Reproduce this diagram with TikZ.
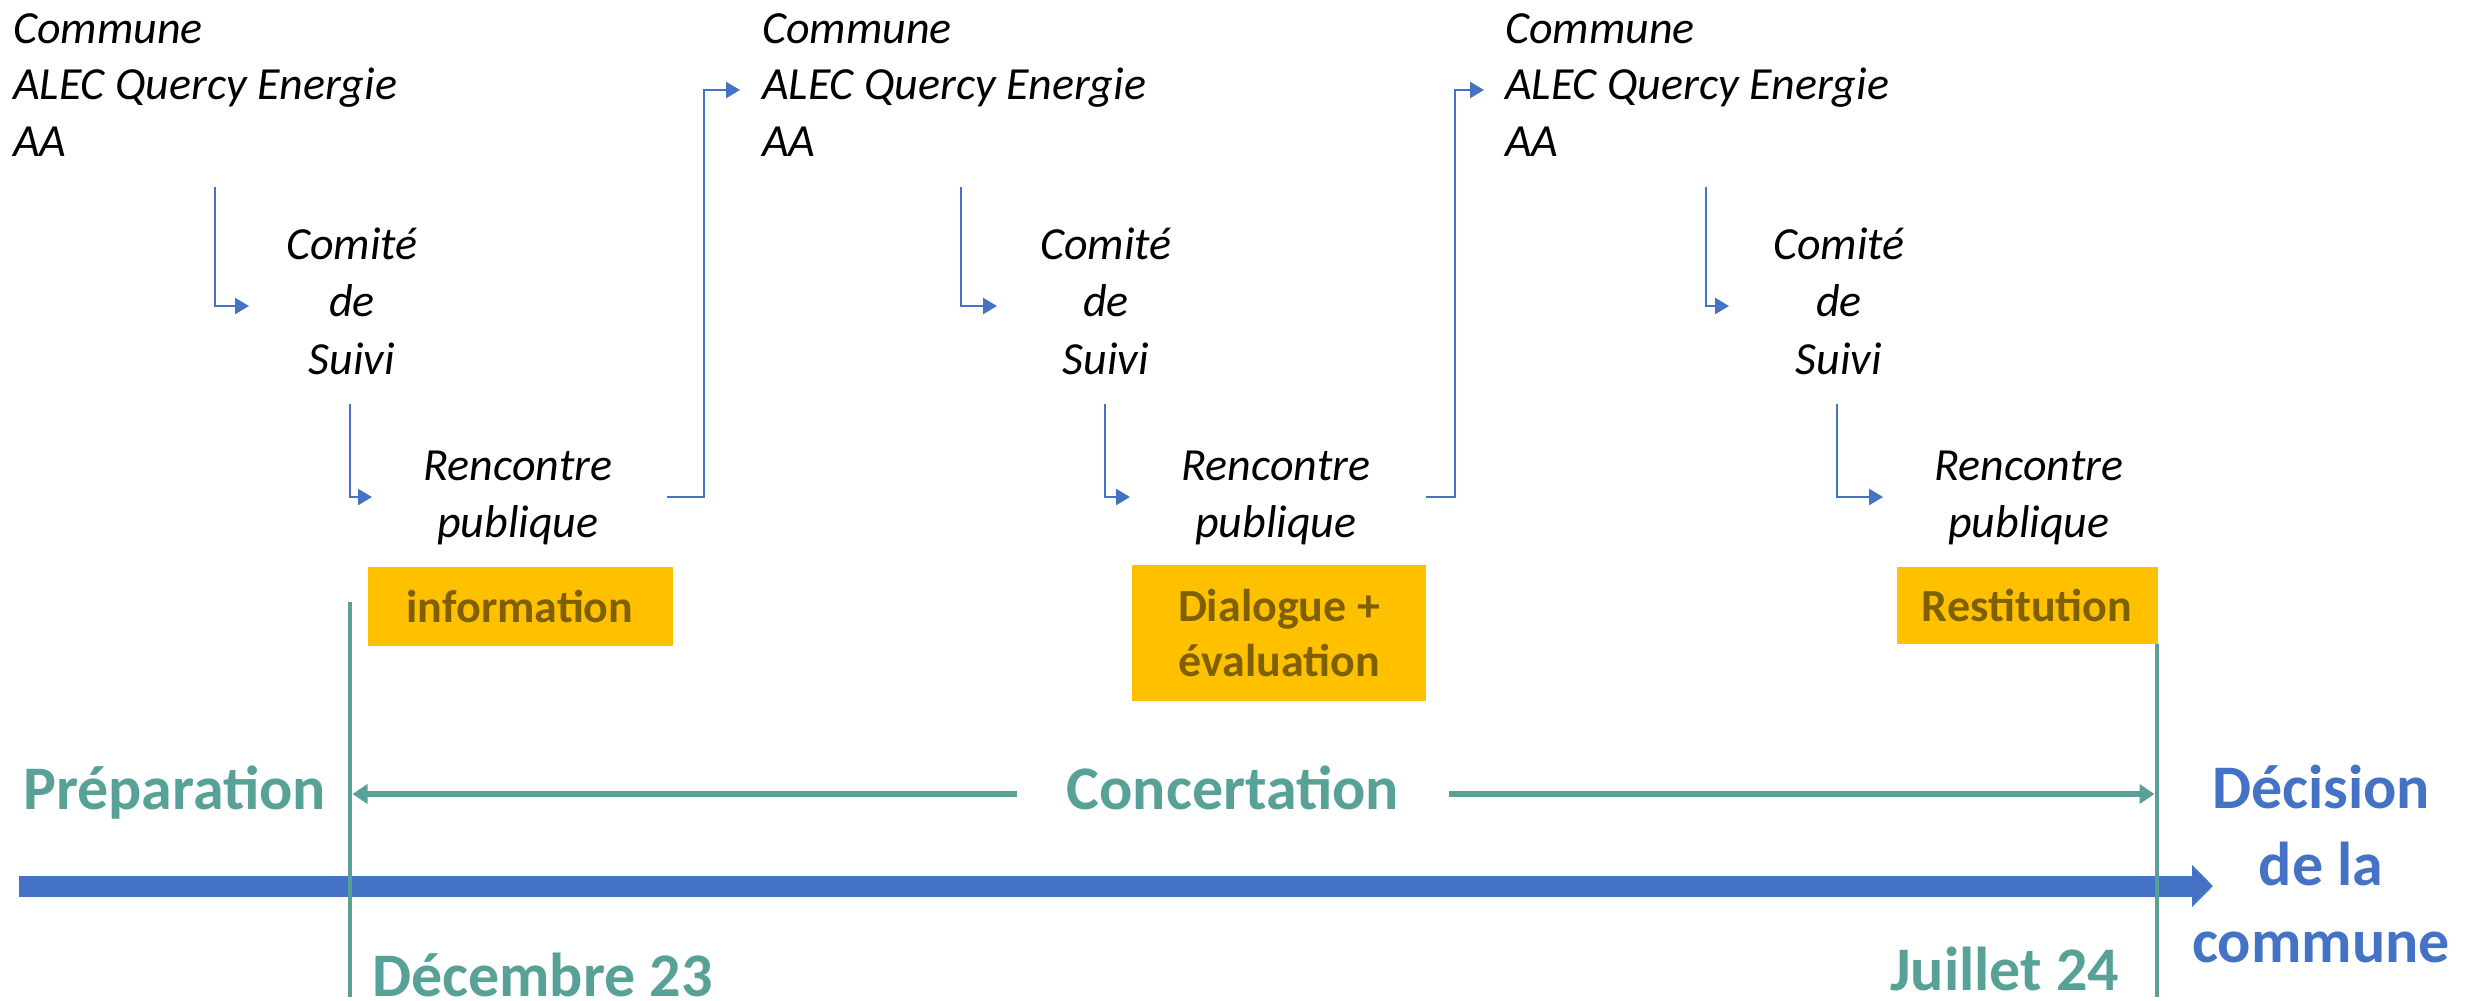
\documentclass[tikz,border=0pt]{standalone}
\usepackage{fontspec}
\setmainfont{Carlito}
\usetikzlibrary{arrows.meta}
\definecolor{tealc}{RGB}{88,161,151}
\definecolor{bluec}{RGB}{68,114,196}
\definecolor{orangec}{RGB}{255,192,0}
\definecolor{boxtxt}{RGB}{127,96,0}
\tikzset{
  ittext/.style={font=\fontsize{46}{56.5}\selectfont\itshape, inner sep=0pt},
  cstext/.style={font=\fontsize{46}{57.5}\selectfont\itshape, inner sep=0pt},
  boxnode/.style={fill=orangec, text=boxtxt, font=\fontsize{46}{55}\selectfont\bfseries, inner sep=0pt, align=center},
  biglabel/.style={font=\fontsize{62}{77}\selectfont\bfseries, inner sep=0pt},
  flow/.style={draw=bluec, line width=2.5pt, -{Triangle[length=14pt,width=16pt]}},
  tealline/.style={draw=tealc, line width=4.5pt},
  concarrow/.style={draw=tealc, line width=6pt, -{Triangle[length=15pt,width=19pt]}},
}
\begin{document}
\begin{tikzpicture}[x=1pt,y=-1pt]
\useasboundingbox (0,0) rectangle (2479,1001);
% --- text groups (base anchor = last line's baseline)
\node[ittext, anchor=base west, align=left] (cm1) at (13,156) {Commune\\ALEC Quercy Energie\\AA};
\node[ittext, anchor=base west, align=left] (cm2) at (762,156) {Commune\\ALEC Quercy Energie\\AA};
\node[ittext, anchor=base west, align=left] (cm3) at (1505,156) {Commune\\ALEC Quercy Energie\\AA};
\node[cstext, anchor=base, align=center] (cs1) at (352,374) {Comité\\de\\Suivi};
\node[cstext, anchor=base, align=center] (cs2) at (1106,374) {Comité\\de\\Suivi};
\node[cstext, anchor=base, align=center] (cs3) at (1839,374) {Comité\\de\\Suivi};
\node[ittext, anchor=base, align=center] (rp1) at (518,537) {Rencontre\\publique};
\node[ittext, anchor=base, align=center] (rp2) at (1276,537) {Rencontre\\publique};
\node[ittext, anchor=base, align=center] (rp3) at (2029,537) {Rencontre\\publique};
% --- orange boxes
\node[boxnode, minimum width=305pt, minimum height=79pt] (b1) at (520,606) {information};
\node[boxnode, minimum width=294pt, minimum height=136pt] (b2) at (1279,633) {Dialogue +\\évaluation};
\node[boxnode, minimum width=261pt, minimum height=77pt] (b3) at (2027,605) {Restitution};
% --- connector points
\coordinate (a1s) at (215,187); \coordinate (a1e) at (249,306);
\coordinate (b1s) at (350,404); \coordinate (b1e) at (372,497);
\coordinate (c1s) at (667,497); \coordinate (c1m) at (704,497); \coordinate (c1e) at (740,90);
\coordinate (a2s) at (961,187); \coordinate (a2e) at (997,306);
\coordinate (b2s) at (1105,404); \coordinate (b2e) at (1130,497);
\coordinate (c2s) at (1426,497); \coordinate (c2m) at (1455,497); \coordinate (c2e) at (1484,90);
\coordinate (a3s) at (1706,187); \coordinate (a3e) at (1729,306);
\coordinate (b3s) at (1837,404); \coordinate (b3e) at (1883,497);
\draw[flow] (a1s) |- (a1e);
\draw[flow] (b1s) |- (b1e);
\draw[flow] (c1s) -- (c1m) |- (c1e);
\draw[flow] (a2s) |- (a2e);
\draw[flow] (b2s) |- (b2e);
\draw[flow] (c2s) -- (c2m) |- (c2e);
\draw[flow] (a3s) |- (a3e);
\draw[flow] (b3s) |- (b3e);
% --- timeline
\coordinate (tl0) at (19,886);
\coordinate (tl1) at (2213,886);
\draw[draw=bluec, line width=21pt, -{Triangle[length=21pt,width=41pt]}] (tl0) -- (tl1);
\coordinate (v1t) at (350,602); \coordinate (v1b) at (350,997);
\coordinate (v2t) at (2157,644); \coordinate (v2b) at (2157,997);
\draw[tealline] (v1t) -- (v1b);
\draw[tealline] (v2t) -- (v2b);
% --- labels
\node[biglabel, text=tealc, anchor=base west] (prep) at (23,809) {Préparation};
\node[biglabel, text=tealc, anchor=base, inner xsep=50pt] (conc) at (1233,809) {Concertation};
\coordinate (cl) at (352.5,794); \coordinate (cr) at (2154.5,794);
\draw[concarrow] (conc.west |- cl) -- (cl);
\draw[concarrow] (conc.east |- cr) -- (cr);
\node[biglabel, text=tealc, anchor=base west] (dec) at (372,996) {Décembre 23};
\node[biglabel, text=tealc, anchor=base east] (jui) at (2119,990) {Juillet 24};
\node[biglabel, text=bluec, anchor=base, align=center] (decis) at (2321,962) {Décision\\de la\\commune};
\end{tikzpicture}
\end{document}
